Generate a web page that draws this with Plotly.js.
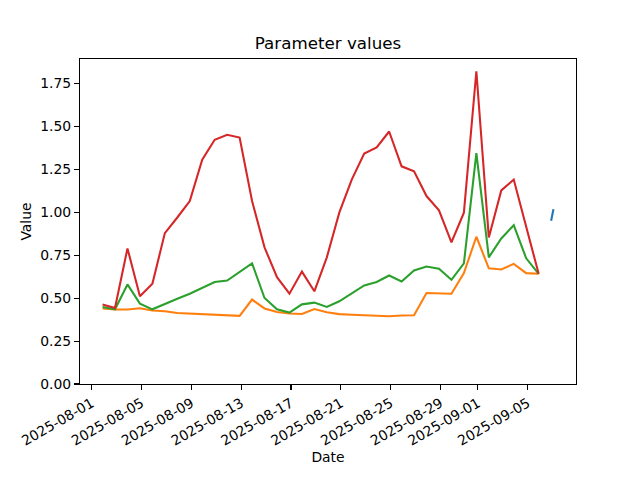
<!DOCTYPE html>
<html>
<head>
<meta charset="utf-8">
<script src="https://cdn.plot.ly/plotly-3.0.1.min.js"></script>
<style>html,body{margin:0;padding:0;background:#fff;}#chart{width:640px;height:480px;}</style>
</head>
<body>
<div id="chart"></div>
<script>
// Daily timestamps (first reading each day)
const startDate = "2025-08-01T21:00:00";
const nDays = 36;

const redValues = [0.463, 0.443, 0.790, 0.511, 0.584, 0.879, 0.970, 1.066, 1.307, 1.423,
  1.452, 1.436, 1.066, 0.796, 0.622, 0.526, 0.655, 0.540, 0.738, 0.998,
  1.191, 1.342, 1.378, 1.471, 1.268, 1.239, 1.095, 1.012, 0.825, 0.998,
  1.822, 0.854, 1.128, 1.191, 0.916, 0.642];
const greenValues = [0.449, 0.435, 0.580, 0.468, 0.435, 0.468, 0.497, 0.526, 0.561, 0.594,
  0.603, 0.651, 0.703, 0.501, 0.435, 0.416, 0.464, 0.474, 0.449, 0.482,
  0.526, 0.574, 0.594, 0.632, 0.597, 0.661, 0.684, 0.671, 0.607, 0.703,
  1.345, 0.738, 0.848, 0.925, 0.732, 0.642];
const orangeValues = [0.440, 0.434, 0.434, 0.441, 0.428, 0.424, 0.414, 0.411, 0.407, 0.401,
  0.399, 0.397, 0.492, 0.440, 0.420, 0.411, 0.408, 0.437, 0.418, 0.407,
  0.403, 0.399, 0.395, 0.395, 0.399, 0.401, 0.530, 0.528, 0.526, 0.646,
  0.858, 0.674, 0.667, 0.700, 0.646, 0.642];
const blueDates = ["2025-09-06T21:00:00", "2025-09-07T01:30:00"];
const blueValues = [0.951, 1.018];

const tickDates = ["2025-08-01", "2025-08-05", "2025-08-09", "2025-08-13", "2025-08-17",
  "2025-08-21", "2025-08-25", "2025-08-29", "2025-09-01", "2025-09-05"];
const yTicks = [0, 0.25, 0.5, 0.75, 1.0, 1.25, 1.5, 1.75];

const DAY = 86400000;
function fmt(ms) {
  const d = new Date(ms);
  const p = n => String(n).padStart(2, "0");
  return d.getUTCFullYear() + "-" + p(d.getUTCMonth() + 1) + "-" + p(d.getUTCDate()) +
    " " + p(d.getUTCHours()) + ":" + p(d.getUTCMinutes()) + ":" + p(d.getUTCSeconds());
}
const startMs = Date.parse(startDate + "Z");
const dates = [];
for (let i = 0; i < nDays; i++) dates.push(fmt(startMs + i * DAY));

const allMs = dates.map(d => Date.parse(d.replace(" ", "T") + "Z"))
  .concat(blueDates.map(d => Date.parse(d + "Z")));
const xmin = Math.min(...allMs), xmax = Math.max(...allMs);
const pad = (xmax - xmin) * 0.05;
const allY = redValues.concat(greenValues, orangeValues, blueValues);
const ymaxData = Math.max(...allY), yminData = Math.min(...allY);
const ytop = ymaxData + 0.05 * (ymaxData - yminData);

const font = {family: "DejaVu Sans, sans-serif", size: 13.9, color: "#000"};
const mk = (x, y, c) => ({x: x, y: y, type: "scatter", mode: "lines",
  line: {color: c, width: 2.08}, hoverinfo: "skip"});

const traces = [
  mk(blueDates.map(d => d.replace("T", " ")), blueValues, "#1f77b4"),
  mk(dates, orangeValues, "#ff7f0e"),
  mk(dates, greenValues, "#2ca02c"),
  mk(dates, redValues, "#d62728")
];

const layout = {
  width: 640, height: 480,
  margin: {l: 80, r: 64, t: 58.7, b: 95.7, pad: 0},
  paper_bgcolor: "#fff", plot_bgcolor: "#fff",
  showlegend: false,
  font: font,
  title: {text: "Parameter values", font: {family: font.family, size: 16.7, color: "#000"},
    x: 0.5, xref: "paper", y: 1 - 43 / 480, yref: "container", yanchor: "middle"},
  xaxis: {
    type: "date",
    range: [fmt(xmin - pad), fmt(xmax + pad)],
    tickmode: "array", tickvals: tickDates, ticktext: tickDates,
    tickangle: -30,
    ticks: "outside", ticklen: 4.9, tickwidth: 1.1, tickcolor: "#000",
    showline: true, linecolor: "#000", linewidth: 1.1, mirror: true,
    showgrid: false, zeroline: false,
    tickfont: font,
    title: {text: "Date", font: font, standoff: 4},
    automargin: false
  },
  yaxis: {
    range: [0, ytop],
    tickmode: "array", tickvals: yTicks, ticktext: yTicks.map(v => v.toFixed(2)),
    ticks: "outside", ticklen: 4.9, tickwidth: 1.1, tickcolor: "#000",
    showline: true, linecolor: "#000", linewidth: 1.1, mirror: true,
    showgrid: false, zeroline: false,
    tickfont: font,
    title: {text: "Value", font: font, standoff: 5},
    automargin: false
  }
};

Plotly.newPlot("chart", traces, layout, {displayModeBar: false, staticPlot: true});
</script>
</body>
</html>
